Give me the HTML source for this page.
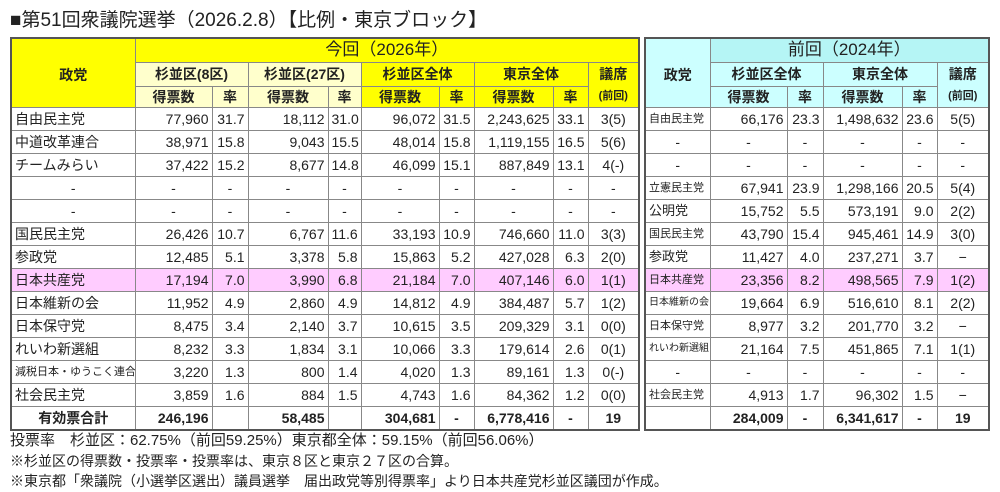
<!DOCTYPE html>
<html><head><meta charset="utf-8">
<style>
html,body{margin:0;padding:0;background:#fff;width:1000px;height:492px;overflow:hidden;position:relative;
font-family:"Liberation Sans","Noto Sans CJK JP",sans-serif;color:#222;}
.title{position:absolute;left:10px;top:8px;font-size:19px;line-height:26px;white-space:nowrap;}
table{position:absolute;border-collapse:collapse;table-layout:fixed;top:37px;border:2px solid #555;}
td{border:1px solid #888;padding:0 3px;font-size:14px;white-space:nowrap;overflow:hidden;text-align:right;line-height:20px;box-sizing:border-box;}
tr.d{height:23.07px;}
td.n{text-align:left;}
td.c{text-align:center;}
.h td{text-align:center;font-weight:bold;}
.y{background:#ffff00;}
.ly{background:#ffffcc;}
.cy{background:#ccffff;}
.cy2{background:#b5f5f5;}
.pk td{background:#ffccff;}
.tot td{font-weight:bold;}
.sm{font-size:11px;}
.foot{position:absolute;left:10px;font-size:14px;line-height:20px;white-space:nowrap;}
</style></head><body>
<div class="title">■第51回衆議院選挙（2026.2.8）【比例・東京ブロック】</div>

<table style="left:10px;width:630px;">
<colgroup><col style="width:124px"><col style="width:77px"><col style="width:36px"><col style="width:80px"><col style="width:33px"><col style="width:78px"><col style="width:35px"><col style="width:79px"><col style="width:35px"><col style="width:51px"></colgroup>
<tr class="h" style="height:24px"><td class="y" rowspan="3" style="vertical-align:top;padding-top:26px">政党</td><td class="y" colspan="9" style="font-weight:normal;font-size:17px;">今回（2026年）</td></tr>
<tr class="h" style="height:24px"><td class="ly" colspan="2">杉並区(8区)</td><td class="ly" colspan="2">杉並区(27区)</td><td class="y" colspan="2">杉並区全体</td><td class="y" colspan="2">東京全体</td><td class="y" style="border-bottom:none">議席</td></tr>
<tr class="h" style="height:21px"><td class="ly">得票数</td><td class="ly">率</td><td class="ly">得票数</td><td class="ly">率</td><td class="y">得票数</td><td class="y">率</td><td class="y">得票数</td><td class="y">率</td><td class="y" style="border-top:none;font-size:11px">(前回)</td></tr>
<tr class="d"><td class="n">自由民主党</td><td>77,960</td><td>31.7</td><td>18,112</td><td>31.0</td><td>96,072</td><td>31.5</td><td>2,243,625</td><td>33.1</td><td class="c">3(5)</td></tr>
<tr class="d"><td class="n">中道改革連合</td><td>38,971</td><td>15.8</td><td>9,043</td><td>15.5</td><td>48,014</td><td>15.8</td><td>1,119,155</td><td>16.5</td><td class="c">5(6)</td></tr>
<tr class="d"><td class="n">チームみらい</td><td>37,422</td><td>15.2</td><td>8,677</td><td>14.8</td><td>46,099</td><td>15.1</td><td>887,849</td><td>13.1</td><td class="c">4(-)</td></tr>
<tr class="d"><td class="c">-</td><td class="c">-</td><td class="c">-</td><td class="c">-</td><td class="c">-</td><td class="c">-</td><td class="c">-</td><td class="c">-</td><td class="c">-</td><td class="c">-</td></tr>
<tr class="d"><td class="c">-</td><td class="c">-</td><td class="c">-</td><td class="c">-</td><td class="c">-</td><td class="c">-</td><td class="c">-</td><td class="c">-</td><td class="c">-</td><td class="c">-</td></tr>
<tr class="d"><td class="n">国民民主党</td><td>26,426</td><td>10.7</td><td>6,767</td><td>11.6</td><td>33,193</td><td>10.9</td><td>746,660</td><td>11.0</td><td class="c">3(3)</td></tr>
<tr class="d"><td class="n">参政党</td><td>12,485</td><td>5.1</td><td>3,378</td><td>5.8</td><td>15,863</td><td>5.2</td><td>427,028</td><td>6.3</td><td class="c">2(0)</td></tr>
<tr class="d pk"><td class="n">日本共産党</td><td>17,194</td><td>7.0</td><td>3,990</td><td>6.8</td><td>21,184</td><td>7.0</td><td>407,146</td><td>6.0</td><td class="c">1(1)</td></tr>
<tr class="d"><td class="n">日本維新の会</td><td>11,952</td><td>4.9</td><td>2,860</td><td>4.9</td><td>14,812</td><td>4.9</td><td>384,487</td><td>5.7</td><td class="c">1(2)</td></tr>
<tr class="d"><td class="n">日本保守党</td><td>8,475</td><td>3.4</td><td>2,140</td><td>3.7</td><td>10,615</td><td>3.5</td><td>209,329</td><td>3.1</td><td class="c">0(0)</td></tr>
<tr class="d"><td class="n">れいわ新選組</td><td>8,232</td><td>3.3</td><td>1,834</td><td>3.1</td><td>10,066</td><td>3.3</td><td>179,614</td><td>2.6</td><td class="c">0(1)</td></tr>
<tr class="d"><td class="n sm">減税日本・ゆうこく連合</td><td>3,220</td><td>1.3</td><td>800</td><td>1.4</td><td>4,020</td><td>1.3</td><td>89,161</td><td>1.3</td><td class="c">0(-)</td></tr>
<tr class="d"><td class="n">社会民主党</td><td>3,859</td><td>1.6</td><td>884</td><td>1.5</td><td>4,743</td><td>1.6</td><td>84,362</td><td>1.2</td><td class="c">0(0)</td></tr>
<tr class="d tot"><td class="c">有効票合計</td><td>246,196</td><td></td><td>58,485</td><td></td><td>304,681</td><td class="c">-</td><td>6,778,416</td><td class="c">-</td><td class="c">19</td></tr>
</table>

<table style="left:644px;width:346px;">
<colgroup><col style="width:65px"><col style="width:77px"><col style="width:36px"><col style="width:79px"><col style="width:35px"><col style="width:52px"></colgroup>
<tr class="h" style="height:24px"><td class="cy" rowspan="3" style="vertical-align:top;padding-top:26px">政党</td><td class="cy2" colspan="5" style="font-weight:normal;font-size:17px;">前回（2024年）</td></tr>
<tr class="h" style="height:24px"><td class="cy" colspan="2">杉並区全体</td><td class="cy" colspan="2">東京全体</td><td class="cy" style="border-bottom:none">議席</td></tr>
<tr class="h" style="height:21px"><td class="cy">得票数</td><td class="cy">率</td><td class="cy">得票数</td><td class="cy">率</td><td class="cy" style="border-top:none;font-size:11px">(前回)</td></tr>
<tr class="d"><td class="n sm">自由民主党</td><td>66,176</td><td>23.3</td><td>1,498,632</td><td>23.6</td><td class="c">5(5)</td></tr>
<tr class="d"><td class="c">-</td><td class="c">-</td><td class="c">-</td><td class="c">-</td><td class="c">-</td><td class="c">-</td></tr>
<tr class="d"><td class="c">-</td><td class="c">-</td><td class="c">-</td><td class="c">-</td><td class="c">-</td><td class="c">-</td></tr>
<tr class="d"><td class="n sm">立憲民主党</td><td>67,941</td><td>23.9</td><td>1,298,166</td><td>20.5</td><td class="c">5(4)</td></tr>
<tr class="d"><td class="n" style="font-size:13px">公明党</td><td>15,752</td><td>5.5</td><td>573,191</td><td>9.0</td><td class="c">2(2)</td></tr>
<tr class="d"><td class="n sm">国民民主党</td><td>43,790</td><td>15.4</td><td>945,461</td><td>14.9</td><td class="c">3(0)</td></tr>
<tr class="d"><td class="n" style="font-size:13px">参政党</td><td>11,427</td><td>4.0</td><td>237,271</td><td>3.7</td><td class="c">−</td></tr>
<tr class="d pk"><td class="n sm">日本共産党</td><td>23,356</td><td>8.2</td><td>498,565</td><td>7.9</td><td class="c">1(2)</td></tr>
<tr class="d"><td class="n" style="font-size:10px">日本維新の会</td><td>19,664</td><td>6.9</td><td>516,610</td><td>8.1</td><td class="c">2(2)</td></tr>
<tr class="d"><td class="n sm">日本保守党</td><td>8,977</td><td>3.2</td><td>201,770</td><td>3.2</td><td class="c">−</td></tr>
<tr class="d"><td class="n" style="font-size:10px">れいわ新選組</td><td>21,164</td><td>7.5</td><td>451,865</td><td>7.1</td><td class="c">1(1)</td></tr>
<tr class="d"><td class="c">-</td><td class="c">-</td><td class="c">-</td><td class="c">-</td><td class="c">-</td><td class="c">-</td></tr>
<tr class="d"><td class="n sm">社会民主党</td><td>4,913</td><td>1.7</td><td>96,302</td><td>1.5</td><td class="c">−</td></tr>
<tr class="d tot"><td></td><td>284,009</td><td class="c">-</td><td>6,341,617</td><td class="c">-</td><td class="c">19</td></tr>
</table>

<div class="foot" style="top:431px;font-size:15px">投票率　杉並区：62.75%（前回59.25%）東京都全体：59.15%（前回56.06%）</div>
<div class="foot" style="top:451px">※杉並区の得票数・投票率・投票率は、東京８区と東京２７区の合算。</div>
<div class="foot" style="top:471px">※東京都「衆議院（小選挙区選出）議員選挙　届出政党等別得票率」より日本共産党杉並区議団が作成。</div>
</body></html>
